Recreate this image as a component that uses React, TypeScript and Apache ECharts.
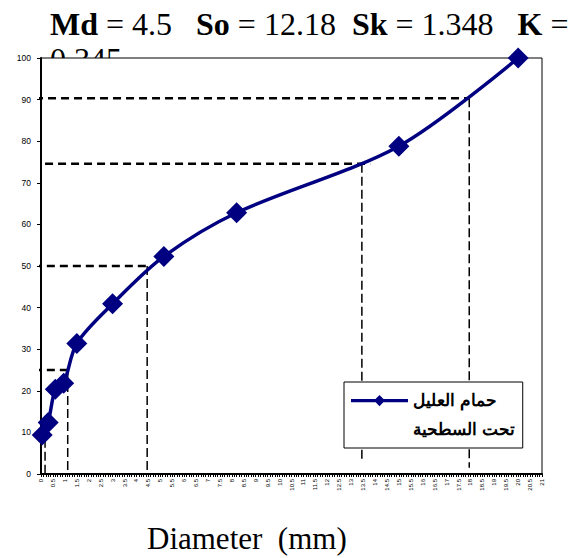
import React, { useEffect, useRef } from "react";
import * as echarts from "echarts";

// Cumulative grain-size curve
const seriesName = "حمام العليل\nتحت السطحية";
const grainSize = [0.05, 0.3, 0.6, 0.95, 1.5, 3, 5.15, 8.2, 15, 20];
const cumulativePct = [9.4, 12.4, 20.4, 21.8, 31.4, 40.9, 52.3, 62.8, 78.8, 100];

// Percentile guide segments (x in mm, y in %)
const guideH25 = [[-0.3, 25], [1.12, 25]];
const guideH50 = [[-0.3, 50], [4.45, 50]];
const guideH75 = [[0.17, 74.6], [13.8, 74.6]];
const guideH90 = [[-0.25, 90.3], [17.95, 90.3]];
const guideV10 = [[0.17, 8.5], [0.17, 0]];
const guideV25 = [[1.12, 25], [1.12, 0]];
const guideV50 = [[4.45, 50], [4.45, 0]];
const guideV75 = [[13.45, 74.6], [13.45, 3]];
const guideV90 = [[17.95, 90.3], [17.95, 1.5]];

const statsTitle = "{b|Md} = 4.5   {b|So} = 12.18  {b|Sk} = 1.348   {b|K} =\n0.345";
const axisTitle = "Diameter  (mm)";

const SERIF = '"Times New Roman", "Liberation Serif", serif';
const SANS = 'Arial, "Liberation Sans", sans-serif';

const guide = (data: number[][], width: number, dash: number[]) => ({
  type: "line",
  data,
  clip: false,
  silent: true,
  symbol: "none",
  z: 3,
  lineStyle: { color: "#000", width, type: dash },
});

export default function App() {
  const ref = useRef<HTMLDivElement>(null);

  useEffect(() => {
    document.body.style.margin = "0";
    if (!ref.current) return;
    const chart = echarts.init(ref.current, undefined, { renderer: "svg" });
    const points = grainSize.map((x, i) => [x, cumulativePct[i]]);

    chart.setOption({
      animation: false,
      backgroundColor: "#fff",
      title: {
        text: statsTitle,
        left: 45,
        top: 1,
        z: 0,
        textStyle: {
          fontFamily: SERIF,
          fontSize: 32,
          fontWeight: "normal",
          color: "#000",
          lineHeight: 35,
          rich: {
            b: { fontFamily: SERIF, fontSize: 32, fontWeight: "bold", color: "#000", lineHeight: 35 },
          },
        },
      },
      grid: {
        left: 41,
        right: 43,
        top: 58,
        bottom: 84,
        show: true,
        z: 1,
        backgroundColor: "#fff",
        borderColor: "#000",
        borderWidth: 1,
      },
      legend: {
        data: [seriesName],
        left: 344,
        top: 382,
        orient: "vertical",
        padding: [4, 8, 4, 7],
        backgroundColor: "#fff",
        borderColor: "#000",
        borderWidth: 1,
        borderRadius: 0,
        itemWidth: 57,
        itemHeight: 44,
        icon:
          "path://M0,0L0.01,0L0,0.01Z M0,44L0.01,44L0,43.99Z M0,6L57,6L57,9.2L0,9.2Z M28.5,2L34,7.6L28.5,13.2L23,7.6Z",
        itemStyle: { borderWidth: 0 },
        textStyle: {
          fontFamily: SANS,
          fontSize: 17,
          fontWeight: "bold",
          color: "#000",
          lineHeight: 29,
        },
        z: 5,
      },
      xAxis: {
        type: "value",
        min: 0,
        max: 21,
        interval: 0.5,
        z: 3,
        axisLine: { show: true, onZero: false, lineStyle: { color: "#000", width: 2 } },
        axisTick: { show: true, length: 3, lineStyle: { color: "#000", width: 1 } },
        minorTick: { show: true, splitNumber: 5, length: 3, lineStyle: { color: "#000", width: 1 } },
        splitLine: { show: false },
        axisLabel: {
          rotate: 90,
          fontSize: 6,
          fontFamily: SANS,
          color: "#000",
          margin: 5,
          showMaxLabel: true,
          showMinLabel: true,
          formatter: (v: number) => String(v),
        },
      },
      yAxis: {
        type: "value",
        min: 0,
        max: 100,
        interval: 10,
        z: 3,
        axisLine: { show: true, onZero: false, lineStyle: { color: "#000", width: 2 } },
        axisTick: { show: true, length: 4, lineStyle: { color: "#000", width: 1 } },
        splitLine: { show: false },
        axisLabel: { fontSize: 8.5, fontFamily: SANS, color: "#000", margin: 10 },
      },
      graphic: [
        {
          type: "text",
          left: 147,
          top: 523,
          style: { text: axisTitle, font: `31px ${SERIF}`, fill: "#000" },
        },
      ],
      series: [
        guide(guideH25, 2.5, [8, 5]),
        guide(guideH50, 2.5, [8, 5]),
        guide(guideH75, 2.5, [8, 5]),
        guide(guideH90, 2.5, [8, 5]),
        guide(guideV10, 1.5, [9, 4]),
        guide(guideV25, 1.5, [9, 4]),
        guide(guideV50, 1.5, [9, 4]),
        guide(guideV75, 1.5, [9, 4]),
        guide(guideV90, 1.5, [9, 4]),
        {
          name: seriesName,
          type: "line",
          data: points,
          smooth: 0.3,
          clip: false,
          z: 4,
          symbol: "diamond",
          symbolSize: 21,
          color: "#000080",
          itemStyle: { color: "#000080" },
          lineStyle: { color: "#000080", width: 3.5 },
        },
      ],
    });

    return () => chart.dispose();
  }, []);

  return <div ref={ref} style={{ width: 585, height: 558 }} />;
}
